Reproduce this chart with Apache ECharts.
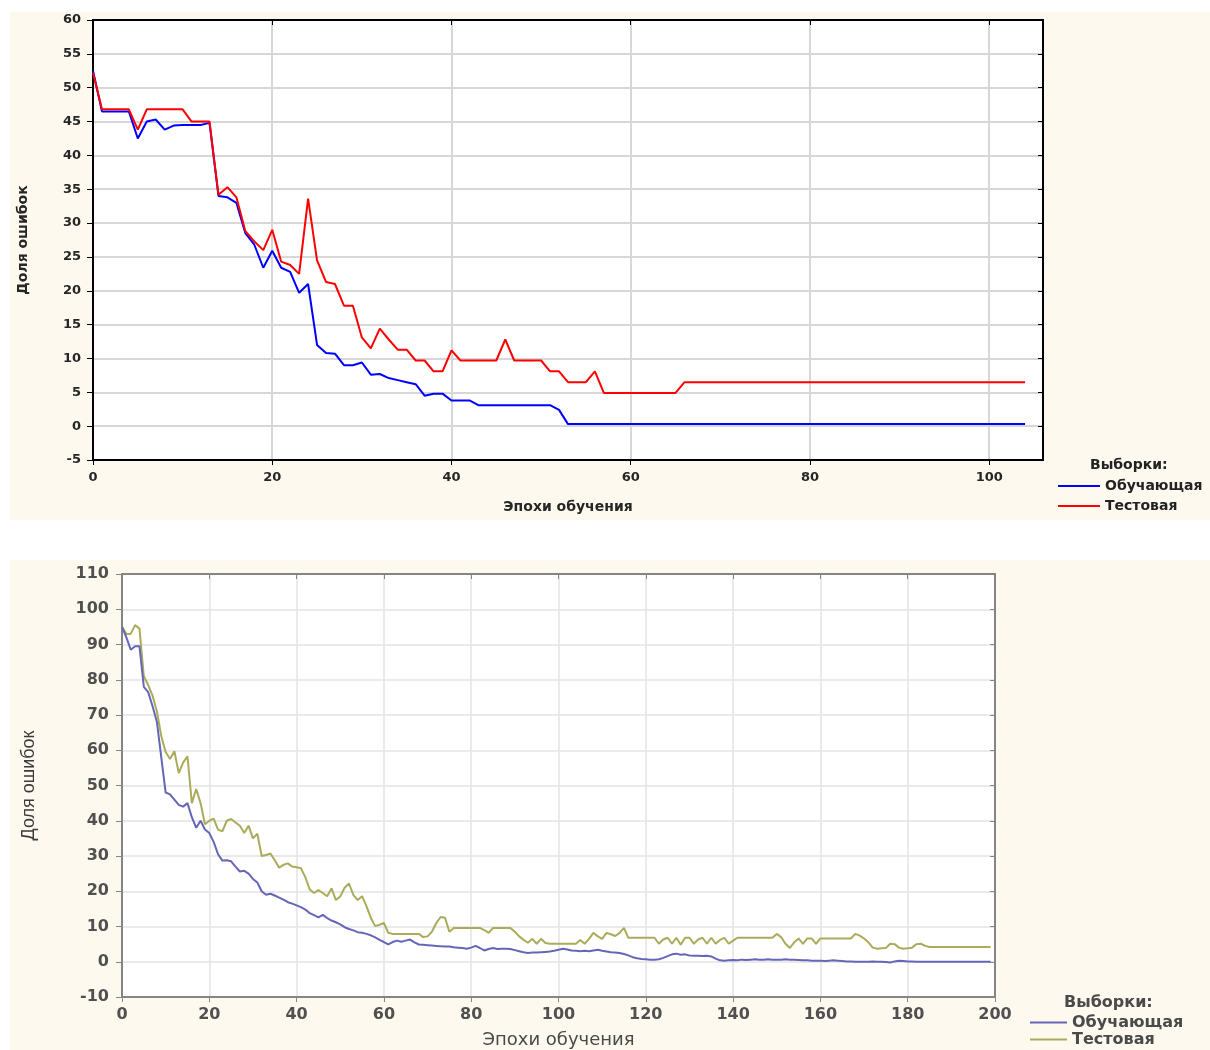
<!DOCTYPE html>
<html><head><meta charset="utf-8">
<script src="https://cdn.jsdelivr.net/npm/echarts@6/dist/echarts.min.js"></script>
<style>
html,body{margin:0;padding:0;background:#fff;}
#wrap{position:relative;width:1210px;height:1050px;}
.bg{position:absolute;background:#fdf9ef;}
#c{position:absolute;left:0;top:0;width:1210px;height:1050px;}
</style>
</head><body>
<div id="wrap">
<div class="bg" style="left:10px;top:12px;width:1200px;height:508px;"></div>
<div class="bg" style="left:10px;top:560px;width:1200px;height:490px;"></div>
<div id="c"></div>
</div>
<script>
// ---------- DATA (index = epoch) ----------
// Chart 1: epochs 0..104
const train1 = [
 52.5, 46.5, 46.5, 46.5, 46.5, 42.5, 45.0, 45.3, 43.8, 44.4,
 44.5, 44.5, 44.5, 44.8, 34.0, 33.8, 33.0, 28.5, 26.8, 23.4,
 25.9, 23.4, 22.8, 19.7, 21.0, 12.0, 10.8, 10.7, 9.0, 9.0,
 9.4, 7.6, 7.7, 7.1, 6.8, 6.5, 6.2, 4.5, 4.8, 4.8,
 3.8, 3.8, 3.8, 3.1, 3.1, 3.1, 3.1, 3.1, 3.1, 3.1,
 3.1, 3.1, 2.4, 0.3, 0.3, 0.3, 0.3, 0.3, 0.3, 0.3,
 0.3, 0.3, 0.3, 0.3, 0.3, 0.3, 0.3, 0.3, 0.3, 0.3,
 0.3, 0.3, 0.3, 0.3, 0.3, 0.3, 0.3, 0.3, 0.3, 0.3,
 0.3, 0.3, 0.3, 0.3, 0.3, 0.3, 0.3, 0.3, 0.3, 0.3,
 0.3, 0.3, 0.3, 0.3, 0.3, 0.3, 0.3, 0.3, 0.3, 0.3,
 0.3, 0.3, 0.3, 0.3, 0.3
];
const test1 = [
 52.2, 46.8, 46.8, 46.8, 46.8, 43.8, 46.8, 46.8, 46.8, 46.8,
 46.8, 45.0, 45.0, 45.0, 34.2, 35.3, 33.8, 28.8, 27.3, 26.0,
 29.0, 24.3, 23.8, 22.5, 33.6, 24.5, 21.3, 21.0, 17.8, 17.8,
 13.1, 11.5, 14.4, 12.8, 11.3, 11.3, 9.7, 9.7, 8.1, 8.1,
 11.2, 9.7, 9.7, 9.7, 9.7, 9.7, 12.8, 9.7, 9.7, 9.7,
 9.7, 8.1, 8.1, 6.5, 6.5, 6.5, 8.1, 4.9, 4.9, 4.9,
 4.9, 4.9, 4.9, 4.9, 4.9, 4.9, 6.5, 6.5, 6.5, 6.5,
 6.5, 6.5, 6.5, 6.5, 6.5, 6.5, 6.5, 6.5, 6.5, 6.5,
 6.5, 6.5, 6.5, 6.5, 6.5, 6.5, 6.5, 6.5, 6.5, 6.5,
 6.5, 6.5, 6.5, 6.5, 6.5, 6.5, 6.5, 6.5, 6.5, 6.5,
 6.5, 6.5, 6.5, 6.5, 6.5
];
// Chart 2: epochs 0..199
const train2 = [
 95.0, 92.0, 88.5, 89.5, 89.5, 78.0, 76.5, 72.5, 68.0, 58.0,
 48.0, 47.5, 46.0, 44.5, 44.0, 45.0, 41.0, 38.0, 40.0, 37.5,
 36.5, 34.0, 30.5, 28.7, 28.8, 28.5, 27.0, 25.6, 25.8, 25.0,
 23.5, 22.5, 20.0, 19.0, 19.3, 18.8, 18.2, 17.6, 16.9, 16.5,
 16.0, 15.5, 14.8, 13.8, 13.2, 12.6, 13.3, 12.4, 11.7, 11.2,
 10.6, 9.8, 9.3, 8.9, 8.4, 8.2, 7.9, 7.5, 6.9, 6.2,
 5.6, 4.9, 5.6, 6.0, 5.7, 6.0, 6.3, 5.5, 4.9, 4.8,
 4.7, 4.6, 4.5, 4.4, 4.3, 4.3, 4.1, 4.0, 3.9, 3.7,
 4.0, 4.5, 3.9, 3.2, 3.6, 3.9, 3.6, 3.7, 3.7, 3.6,
 3.3, 3.0, 2.7, 2.5, 2.6, 2.6, 2.7, 2.8, 2.9, 3.1,
 3.4, 3.7, 3.5, 3.2, 3.1, 3.0, 3.1, 3.0, 3.2, 3.4,
 3.1, 2.9, 2.7, 2.6, 2.5, 2.2, 1.8, 1.3, 1.0, 0.8,
 0.7, 0.6, 0.6, 0.7, 1.1, 1.6, 2.1, 2.3, 2.0, 2.1,
 1.8, 1.7, 1.7, 1.6, 1.7, 1.5, 0.9, 0.4, 0.3, 0.4,
 0.5, 0.4, 0.6, 0.5, 0.6, 0.7, 0.6, 0.6, 0.7, 0.6,
 0.6, 0.6, 0.7, 0.6, 0.6, 0.5, 0.4, 0.4, 0.3, 0.3,
 0.3, 0.2, 0.3, 0.4, 0.3, 0.2, 0.1, 0.1, 0.0, 0.0,
 0.0, 0.0, 0.1, 0.0, 0.0, -0.1, -0.2, 0.1, 0.3, 0.2,
 0.1, 0.1, 0.0, 0.0, 0.0, 0.0, 0.0, 0.0, 0.0, 0.0,
 0.0, 0.0, 0.0, 0.0, 0.0, 0.0, 0.0, 0.0, 0.0, 0.0
];
const test2 = [
 95.0, 93.0, 93.0, 95.5, 94.5, 81.0, 78.5, 75.5, 71.0, 64.0,
 59.5, 57.5, 59.7, 53.5, 56.5, 58.3, 45.0, 49.0, 45.0, 39.0,
 40.0, 40.6, 37.5, 37.0, 40.0, 40.5, 39.5, 38.6, 36.5, 38.6,
 35.0, 36.3, 30.0, 30.3, 30.7, 28.8, 26.7, 27.5, 27.9, 27.0,
 26.8, 26.5, 24.0, 20.5, 19.5, 20.3, 19.5, 18.6, 20.8, 17.5,
 18.5, 21.0, 22.2, 19.0, 17.5, 18.6, 15.8, 12.5, 10.1, 10.5,
 11.0, 8.2, 7.9, 7.9, 7.9, 7.9, 7.9, 7.9, 7.9, 7.0,
 7.2, 8.5, 11.0, 12.7, 12.5, 8.5, 9.6, 9.6, 9.6, 9.6,
 9.6, 9.6, 9.6, 9.0, 8.2, 9.6, 9.6, 9.6, 9.6, 9.6,
 8.5, 7.2, 6.2, 5.4, 6.5, 5.1, 6.5, 5.3, 5.1, 5.1,
 5.1, 5.1, 5.1, 5.1, 5.1, 6.2, 5.1, 6.5, 8.2, 7.2,
 6.5, 8.2, 7.8, 7.3, 8.2, 9.6, 6.8, 6.8, 6.8, 6.8,
 6.8, 6.8, 6.8, 5.1, 6.3, 6.8, 5.1, 6.8, 4.8, 6.8,
 6.8, 5.1, 6.3, 6.8, 5.1, 6.8, 5.1, 6.2, 6.8, 5.1,
 6.0, 6.8, 6.8, 6.8, 6.8, 6.8, 6.8, 6.8, 6.8, 6.8,
 7.9, 7.0, 5.1, 3.9, 5.5, 6.6, 5.1, 6.6, 6.6, 5.1,
 6.6, 6.6, 6.6, 6.6, 6.6, 6.6, 6.6, 6.6, 7.9, 7.4,
 6.6, 5.5, 4.0, 3.7, 3.8, 3.9, 5.1, 5.0, 4.0, 3.7,
 3.8, 4.0, 5.0, 5.1, 4.5, 4.2, 4.2, 4.2, 4.2, 4.2,
 4.2, 4.2, 4.2, 4.2, 4.2, 4.2, 4.2, 4.2, 4.2, 4.2
];
const seriesLabels = ['Обучающая', 'Тестовая'];
const legendTitle = 'Выборки:';
const yTitle = 'Доля ошибок';
const xTitle = 'Эпохи обучения';
// axis ranges
const x1Range = {min: 0, max: 106, interval: 20};
const y1Range = {min: -5, max: 60, interval: 5};
const x2Range = {min: 0, max: 200, interval: 20};
const y2Range = {min: -10, max: 110, interval: 10};

// ---------- CHART ----------
const toXY = arr => arr.map((v, i) => [i, v]);
const nameMap = {train1: seriesLabels[0], test1: seriesLabels[1], train2: seriesLabels[0], test2: seriesLabels[1]};
const F1 = '"DejaVu Sans", Verdana, sans-serif';
const F2 = '"DejaVu Sans", Arial, sans-serif';

const chart = echarts.init(document.getElementById('c'), null, {renderer: 'canvas'});

const lbl1 = {fontFamily: F1, fontWeight: 'bold', fontSize: 13, color: '#262626'};
const lbl2 = {fontFamily: F2, fontWeight: 'bold', fontSize: 16, color: '#505050'};

function mainX(grid, r, color, lw, lbl, margin, name, gap, nameStyle, hideMax) {
  return {gridIndex: grid, type: 'value', min: r.min, max: r.max, interval: r.interval, position: 'bottom',
    axisLine: {show: true, onZero: false, lineStyle: {color: color, width: lw}},
    axisTick: {show: true, inside: false, length: 5, lineStyle: {color: color, width: 1}},
    axisLabel: Object.assign({margin: margin, showMaxLabel: !hideMax}, lbl),
    splitLine: {show: true, lineStyle: {color: grid === 0 ? '#d7d7d7' : '#e3e3e3', width: grid === 0 ? 2 : 1.5}},
    name: name, nameLocation: 'middle', nameGap: gap, nameTextStyle: nameStyle};
}
function mainY(grid, r, color, lw, lbl, margin, name, gap, nameStyle) {
  return {gridIndex: grid, type: 'value', min: r.min, max: r.max, interval: r.interval, position: 'left',
    axisLine: {show: true, onZero: false, lineStyle: {color: color, width: lw}},
    axisTick: {show: true, inside: false, length: 6, lineStyle: {color: color, width: 1}},
    axisLabel: Object.assign({margin: margin}, lbl),
    splitLine: {show: true, lineStyle: {color: grid === 0 ? '#d7d7d7' : '#e3e3e3', width: grid === 0 ? 2 : 1.5}},
    name: name, nameLocation: 'middle', nameRotate: 90, nameGap: gap, nameTextStyle: nameStyle};
}
function mirrorAxis(grid, r, pos, color, lw) {
  return {gridIndex: grid, type: 'value', min: r.min, max: r.max, interval: r.interval, position: pos,
    axisLine: {show: true, onZero: false, lineStyle: {color: color, width: lw}},
    axisTick: {show: true, inside: true, length: 5, lineStyle: {color: color, width: 1}},
    axisLabel: {show: false}, splitLine: {show: false}};
}

const option = {
  animation: false,
  backgroundColor: 'transparent',
  grid: [
    {left: 93, top: 20, width: 950, height: 440, show: true, backgroundColor: '#ffffff', borderColor: '#000', borderWidth: 2},
    {left: 122, top: 574, width: 873, height: 425, show: true, backgroundColor: '#ffffff', borderColor: '#858585', borderWidth: 2}
  ],
  xAxis: [
    mainX(0, x1Range, '#000', 2, lbl1, 11, xTitle, 40, {fontFamily: F1, fontWeight: 'bold', fontSize: 14, color: '#262626'}, true),
    mirrorAxis(0, x1Range, 'top', '#000', 2),
    mainX(1, x2Range, '#858585', 2, lbl2, 10, xTitle, 34, {fontFamily: F2, fontSize: 18, color: '#4a4a4a'}, false),
    mirrorAxis(1, x2Range, 'top', '#858585', 2)
  ],
  yAxis: [
    mainY(0, y1Range, '#000', 2, lbl1, 12, yTitle, 63, {fontFamily: F1, fontWeight: 'bold', fontSize: 14, color: '#262626'}),
    mirrorAxis(0, y1Range, 'right', '#000', 2),
    mainY(1, y2Range, '#858585', 2, lbl2, 13, yTitle, 84, {fontFamily: '"Liberation Sans Narrow", "Liberation Sans", sans-serif', fontSize: 18, color: '#3a3a3a'}),
    mirrorAxis(1, y2Range, 'right', '#858585', 2)
  ],
  legend: [
    {orient: 'vertical', left: 1058, top: 478, padding: 0, icon: 'rect', itemWidth: 42, itemHeight: 2, itemGap: 4,
     data: ['train1', 'test1'], formatter: n => nameMap[n], selectedMode: false,
     textStyle: {fontFamily: F1, fontWeight: 'bold', fontSize: 14, lineHeight: 16, color: '#222'}},
    {orient: 'vertical', left: 1030, top: 1014, padding: 0, height: 40, icon: 'rect', itemWidth: 37, itemHeight: 2, itemGap: 0,
     data: ['train2', 'test2'], formatter: n => nameMap[n], selectedMode: false,
     textStyle: {fontFamily: F2, fontWeight: 'bold', fontSize: 16, lineHeight: 17, color: '#4a4a4a'}}
  ],
  graphic: [
    {type: 'text', left: 1090, top: 458, silent: true,
     style: {text: legendTitle, font: 'bold 14px "DejaVu Sans"', fill: '#222'}},
    {type: 'text', left: 1064, top: 995, silent: true,
     style: {text: legendTitle, font: 'bold 16px "DejaVu Sans"', fill: '#4a4a4a'}}
  ],
  series: [
    {name: 'train1', type: 'line', xAxisIndex: 0, yAxisIndex: 0, data: toXY(train1), symbol: 'none',
     itemStyle: {color: '#0000ff'}, lineStyle: {color: '#0000ff', width: 2}, z: 3},
    {name: 'test1', type: 'line', xAxisIndex: 0, yAxisIndex: 0, data: toXY(test1), symbol: 'none',
     itemStyle: {color: '#ff0000'}, lineStyle: {color: '#ff0000', width: 2}, z: 4},
    {name: 'train2', type: 'line', xAxisIndex: 2, yAxisIndex: 2, data: toXY(train2), symbol: 'none',
     itemStyle: {color: '#6666b8'}, lineStyle: {color: '#6666b8', width: 2}, z: 4},
    {name: 'test2', type: 'line', xAxisIndex: 2, yAxisIndex: 2, data: toXY(test2), symbol: 'none',
     itemStyle: {color: '#abab5c'}, lineStyle: {color: '#abab5c', width: 2}, z: 3}
  ]
};
chart.setOption(option);
</script>
</body></html>
